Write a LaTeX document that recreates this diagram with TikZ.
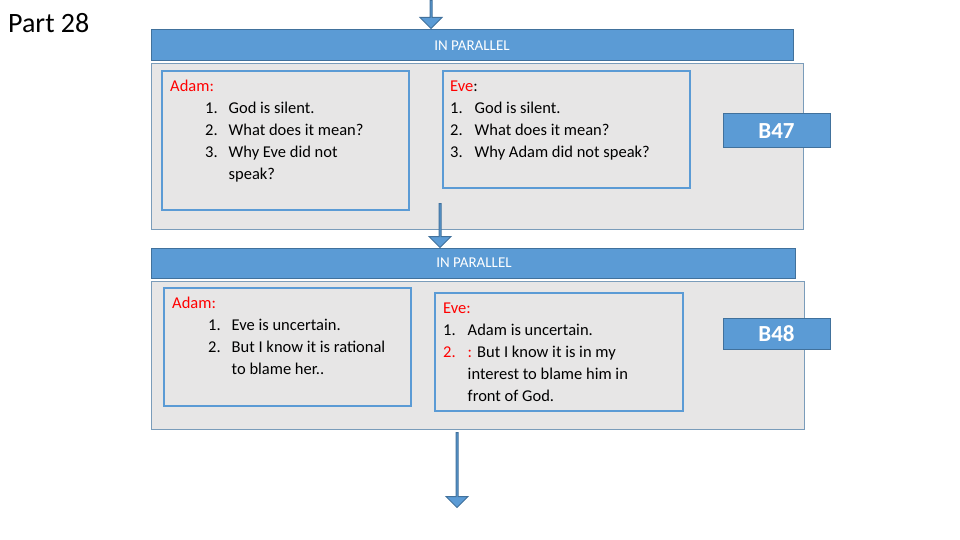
\documentclass[tikz,border=0pt]{standalone}
\usepackage{fontspec}
\setmainfont{Carlito}
\usetikzlibrary{positioning, shapes.arrows}
\definecolor{barblue}{HTML}{5B9BD5}
\definecolor{edgeblue}{HTML}{41719C}
\definecolor{panelgray}{HTML}{E7E6E6}
\begin{document}
\begin{tikzpicture}[x=1pt, y=-1pt,
        txt/.style = {anchor=north west, inner sep=0pt, font=\fontsize{16.5}{22}\selectfont},
        bar/.style = {draw=edgeblue, fill=barblue, line width=1pt},
      panel/.style = {draw=edgeblue!70, fill=panelgray, line width=1pt},
       cbox/.style = {draw=barblue, fill=panelgray, line width=2.5pt},
       tag/.style  = {draw=edgeblue, fill=barblue, text=white, line width=1pt,
                      font=\bfseries\fontsize{23}{24}\selectfont},
      darrow/.style = {single arrow, draw=edgeblue, fill=barblue, line width=1pt, rotate=-90,
                      single arrow head extend=5pt, inner sep=0pt, minimum width=22pt}
                        ]
\useasboundingbox (0,0) rectangle (960,540);
\node (part) [anchor=west, inner sep=0pt, font=\fontsize{28}{30}\selectfont] at (8,23) {Part 28};
% first block
\node (arrA) [darrow, minimum height=28pt] at (431,14) {};
\draw[bar] (151,30) rectangle (793,61);
\node (barA) at (472,45.5) [text=white, font=\fontsize{15}{16}\selectfont] {IN PARALLEL};
\draw[panel] (151,64) rectangle (803,229);
\draw[cbox] (162,71) rectangle (409,210);
\draw[cbox] (443,71) rectangle (690,188);
\node (adamA) [txt] at (170,76) {\begin{tabular}{@{\hspace{35pt}}r@{\hspace{11pt}}l@{}}
  \multicolumn{2}{@{}l}{\textcolor{red}{Adam:}}\\
  1. & God is silent.\\
  2. & What does it mean?\\
  3. & Why Eve did not\\
     & speak?
\end{tabular}};
\node (eveA) [txt] at (450,76) {\begin{tabular}{@{}r@{\hspace{12pt}}l@{}}
  \multicolumn{2}{@{}l}{\textcolor{red}{Eve}:}\\
  1. & God is silent.\\
  2. & What does it mean?\\
  3. & Why Adam did not speak?
\end{tabular}};
\node (bA) [tag, minimum width=107pt, minimum height=34pt] at (776.5,131) {B47};
% second block
\node (arrB) [darrow, minimum height=44pt] at (440,225) {};
\draw[bar] (151,248) rectangle (795,278);
\node (barB) at (474,263) [text=white, font=\fontsize{15}{16}\selectfont] {IN PARALLEL};
\draw[panel] (151,281) rectangle (804,429);
\draw[cbox] (164,288) rectangle (411,406);
\draw[cbox] (435,293) rectangle (683,411);
\node (adamB) [txt] at (172,293) {\begin{tabular}{@{\hspace{36pt}}r@{\hspace{11pt}}l@{}}
  \multicolumn{2}{@{}l}{\textcolor{red}{Adam:}}\\
  1. & Eve is uncertain.\\
  2. & But I know it is rational\\
     & to blame her..
\end{tabular}};
\node (eveB) [txt] at (443,298) {\begin{tabular}{@{}r@{\hspace{12pt}}l@{}}
  \multicolumn{2}{@{}l}{\textcolor{red}{Eve:}}\\
  1. & Adam is uncertain.\\
  \textcolor{red}{2.} & \textcolor{red}{:} But I know it is in my\\
     & interest to blame him in\\
     & front of God.
\end{tabular}};
\node (bB) [tag, minimum width=107pt, minimum height=31pt] at (776.5,333.5) {B48};
\node (arrC) [darrow, minimum height=75pt] at (457,469.5) {};
\end{tikzpicture}
\end{document}
